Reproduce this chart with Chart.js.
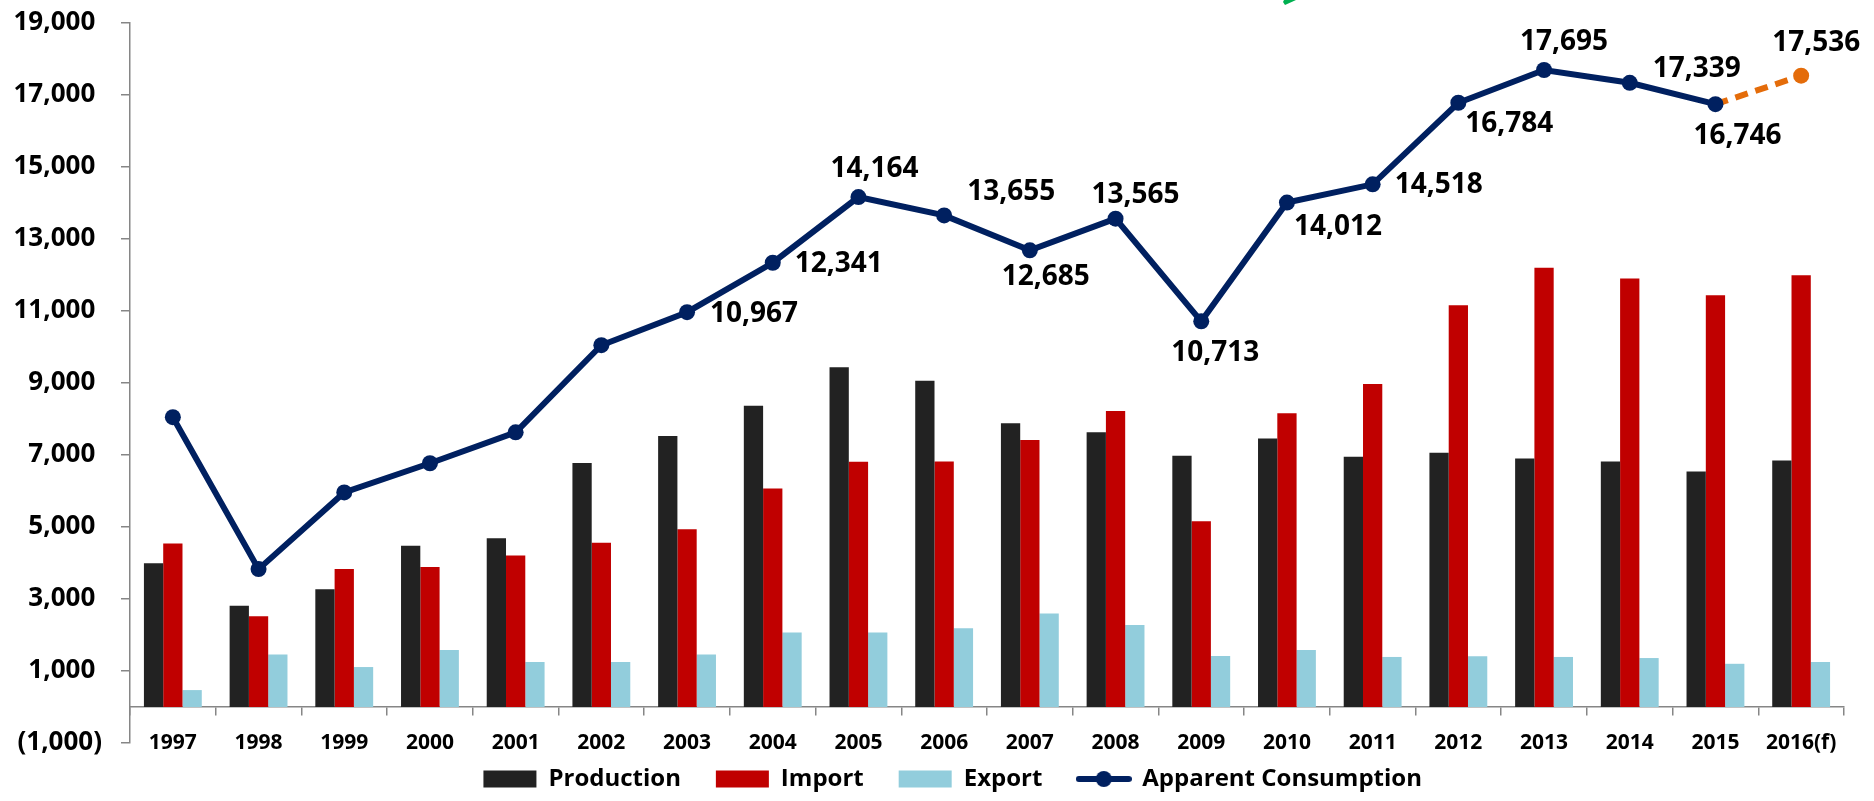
<!DOCTYPE html>
<html>
<head>
<meta charset="utf-8">
<script src="https://cdn.jsdelivr.net/npm/chart.js@4.4.1/dist/chart.umd.min.js"></script>
<style>
  html, body { margin: 0; padding: 0; background: #fff; }
  #wrap { position: relative; width: 1874px; height: 801px; }
</style>
</head>
<body>
<div id="wrap"><canvas id="chart"></canvas></div>
<script>
// values
const years = ['1997', '1998', '1999', '2000', '2001', '2002', '2003', '2004', '2005', '2006',
  '2007', '2008', '2009', '2010', '2011', '2012', '2013', '2014', '2015', '2016(f)'];
const production = [3990, 2810, 3270, 4480, 4690, 6780, 7530, 8370, 9440, 9060,
  7880, 7630, 6980, 7460, 6950, 7060, 6900, 6820, 6540, 6850];
const imports = [4540, 2520, 3830, 3890, 4210, 4560, 4940, 6070, 6810, 6820,
  7420, 8220, 5160, 8160, 8970, 11160, 12200, 11900, 11440, 11990];
const exports = [470, 1460, 1110, 1580, 1250, 1250, 1460, 2070, 2070, 2190,
  2600, 2280, 1420, 1580, 1390, 1410, 1390, 1360, 1200, 1250];
const consumption = [8050, 3830, 5960, 6770, 7630, 10050, 10967, 12341, 14164, 13655,
  12685, 13565, 10713, 14012, 14518, 16784, 17695, 17339, 16746, 17536];
const yTicks = { min: -1000, max: 19000, step: 2000 };

// where each value label sits relative to its point (null = no label)
const labelOffsets = [null, null, null, null, null, null,
  [67, 2], [66, 1], [16, -28], [67, -23], [16, 27], [20, -24], [14, 32],
  [51, 24], [66, 1], [51, 21], [20, -28], [67, -14], [22, 32], [15, -33]];

const FONT = '"Open Sans", "DejaVu Sans", sans-serif';
const NAVY = '#002060';
const ORANGE = '#E46C0A';
const AXIS = '#868686';
const isForecast = i => years[i].indexOf('(f)') !== -1;

// legend glyph for the line series: line with a dot
const lineGlyph = document.createElement('canvas');
lineGlyph.width = 56; lineGlyph.height = 18;
(function () {
  const g = lineGlyph.getContext('2d');
  g.strokeStyle = NAVY; g.lineWidth = 6; g.lineCap = 'round';
  g.beginPath(); g.moveTo(3, 9); g.lineTo(53, 9); g.stroke();
  g.fillStyle = NAVY;
  g.beginPath(); g.arc(28, 9, 8, 0, Math.PI * 2); g.fill();
})();

const valueLabels = {
  id: 'valueLabels',
  afterDatasetsDraw(chart) {
    const idx = chart.data.datasets.findIndex(d => d.type === 'line');
    const meta = chart.getDatasetMeta(idx);
    const ctx = chart.ctx;
    ctx.save();
    ctx.font = 'bold 28px ' + FONT;
    ctx.fillStyle = '#000';
    ctx.textAlign = 'center';
    ctx.textBaseline = 'middle';
    meta.data.forEach((pt, i) => {
      const off = labelOffsets[i];
      if (!off) return;
      const v = chart.data.datasets[idx].data[i];
      ctx.fillText(v.toLocaleString('en-US'), pt.x + off[0], pt.y + off[1]);
    });
    ctx.restore();
  }
};

// bit of a green arrow cut off at the top edge
const greenBit = {
  id: 'greenBit',
  afterDraw(chart) {
    const ctx = chart.ctx;
    ctx.save();
    ctx.fillStyle = '#00B050';
    ctx.beginPath();
    ctx.moveTo(1283, 2); ctx.lineTo(1285, 5); ctx.lineTo(1296, 0); ctx.lineTo(1284, 0);
    ctx.closePath(); ctx.fill();
    ctx.restore();
  }
};

new Chart(document.getElementById('chart'), {
  data: {
    labels: years,
    datasets: [
      { type: 'bar', label: 'Production', data: production, backgroundColor: '#222222', order: 1 },
      { type: 'bar', label: 'Import', data: imports, backgroundColor: '#C00000', order: 1 },
      { type: 'bar', label: 'Export', data: exports, backgroundColor: '#92CDDC', order: 1 },
      {
        type: 'line', label: 'Apparent Consumption', data: consumption, order: 0,
        borderColor: NAVY, borderWidth: 6, fill: false, tension: 0,
        pointRadius: 8, pointHoverRadius: 8, pointBorderWidth: 0,
        pointBackgroundColor: years.map((y, i) => isForecast(i) ? ORANGE : NAVY),
        segment: {
          borderColor: c => isForecast(c.p1DataIndex) ? ORANGE : undefined,
          borderDash: c => isForecast(c.p1DataIndex) ? [13, 8] : undefined
        }
      }
    ]
  },
  options: {
    responsive: true,
    maintainAspectRatio: false,
    animation: false,
    layout: { padding: { top: 23, right: 30, bottom: 0, left: 0 } },
    datasets: { bar: { categoryPercentage: 0.675, barPercentage: 1 } },
    plugins: {
      tooltip: { enabled: false },
      legend: {
        position: 'bottom',
        fullSize: false,
        // empty title used only as a spacer above the legend row
        title: { display: true, text: ' ', font: { size: 1, lineHeight: 1 }, padding: { top: 0, bottom: 13 } },
        labels: {
          color: '#000',
          font: { family: FONT, size: 24, weight: 'bold' },
          usePointStyle: true,
          pointStyleWidth: 53,
          boxHeight: 17,
          padding: 10,
          sort: (a, b) => a.datasetIndex - b.datasetIndex,
          generateLabels(chart) {
            const items = Chart.defaults.plugins.legend.labels.generateLabels(chart);
            items.forEach(it => {
              const ds = chart.data.datasets[it.datasetIndex];
              if (ds.type === 'line') {
                it.pointStyle = lineGlyph;
                it.text = it.text + '           ';
              } else {
                it.pointStyle = 'rect';
                it.lineWidth = 0;
                it.text = it.text + '    ';
              }
            });
            return items;
          }
        }
      }
    },
    scales: {
      x: {
        position: { y: 0 },
        offset: true,
        grid: { offset: true, drawOnChartArea: false, drawTicks: true, tickLength: 8, color: AXIS, lineWidth: 1.5 },
        border: { color: AXIS, width: 1.5 },
        ticks: { color: '#000', font: { family: FONT, size: 21, weight: 'bold' }, padding: 15, maxRotation: 0, autoSkip: false },
        afterFit(s) { s.paddingLeft = 0; s.paddingRight = 0; }
      },
      y: {
        min: yTicks.min,
        max: yTicks.max,
        grid: { drawOnChartArea: false, tickLength: 9, color: AXIS, lineWidth: 1.5 },
        border: { color: AXIS, width: 1.5 },
        ticks: {
          stepSize: yTicks.step,
          color: '#000',
          padding: 19,
          font: { family: FONT, size: 26, weight: 'bold' },
          callback: v => v < 0 ? '(' + Math.abs(v).toLocaleString('en-US') + ')' : v.toLocaleString('en-US') + ' '
        },
        afterFit(s) { s.width = 130; s.paddingTop = 0; s.paddingBottom = 0; }
      }
    }
  },
  plugins: [valueLabels, greenBit]
});
</script>
</body>
</html>
